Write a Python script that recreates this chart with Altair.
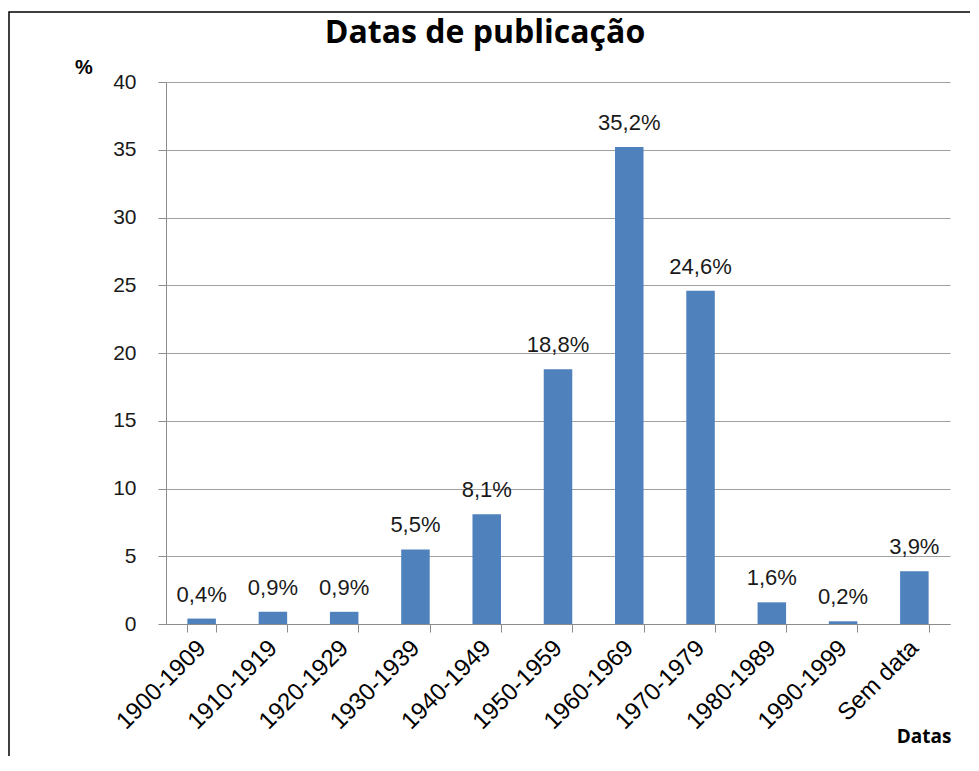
import altair as alt
import pandas as pd

categories = ["1900-1909", "1910-1919", "1920-1929", "1930-1939", "1940-1949",
              "1950-1959", "1960-1969", "1970-1979", "1980-1989", "1990-1999", "Sem data"]
values = [0.4, 0.9, 0.9, 5.5, 8.1, 18.8, 35.2, 24.6, 1.6, 0.2, 3.9]
labels = [f"{v:.1f}".replace(".", ",") + "%" for v in values]
y_ticks = [0, 5, 10, 15, 20, 25, 30, 35, 40]

df = pd.DataFrame({"cat": categories, "val": values, "label": labels})
one = pd.DataFrame({"a": [0]})

W, H = 784, 542

x_enc = alt.X("cat:N", sort=categories, title=None,
              scale=alt.Scale(paddingInner=0.6, paddingOuter=0.3),
              axis=alt.Axis(labelAngle=-45, labelAlign="right", labelBaseline="middle",
                            labelFont="Liberation Sans", labelFontSize=24, labelColor="#000000",
                            labelPadding=12, tickBand="extent", tickSize=8, tickColor="#8c8c8c",
                            domainColor="#8c8c8c", grid=False, labelOverlap=False))
y_enc = alt.Y("val:Q", title=None, scale=alt.Scale(domain=[0, 40], nice=False),
              axis=alt.Axis(values=y_ticks, labelFont="Liberation Sans", labelFontSize=21,
                            labelColor="#1a1a1a", labelPadding=22, tickSize=8,
                            tickColor="#8c8c8c", domainColor="#8c8c8c",
                            gridColor="#a0a0a0", gridWidth=1.2))

bars = alt.Chart(df).mark_bar(color="#4F81BD").encode(x=x_enc, y=y_enc)
texts = alt.Chart(df).mark_text(font="Liberation Sans", fontSize=22, color="#1a1a1a",
                                baseline="middle", dy=-24).encode(
    x=alt.X("cat:N", sort=categories), y="val:Q", text="label:N")

border = alt.Chart(one).mark_rect(fillOpacity=0, stroke="#000000", strokeWidth=1.5).encode(
    x=alt.value(-157), x2=alt.value(W + 80), y=alt.value(-70), y2=alt.value(H + 200))

title = alt.Chart(one).mark_text(text="Datas de publicação", font="Open Sans", fontSize=32,
                                 fontWeight="bold", color="#000000", baseline="alphabetic").encode(
    x=alt.value(319), y=alt.value(-39))
pct = alt.Chart(one).mark_text(text="%", font="Liberation Sans", fontSize=20,
                               fontWeight="bold", color="#000000", baseline="middle").encode(
    x=alt.value(-82), y=alt.value(-14))
xlab = alt.Chart(one).mark_text(text="Datas", font="Open Sans", fontSize=19,
                                fontWeight="bold", color="#000000", baseline="middle").encode(
    x=alt.value(758), y=alt.value(655))

chart = alt.layer(border, bars, texts, title, pct, xlab).properties(
    width=W, height=H,
    padding={"left": 158, "top": 74, "right": 20, "bottom": 132},
    autosize=alt.AutoSizeParams(type="none"),
).configure_view(stroke=None)

chart.save("out.html", embed_options={"renderer": "svg", "actions": False})
